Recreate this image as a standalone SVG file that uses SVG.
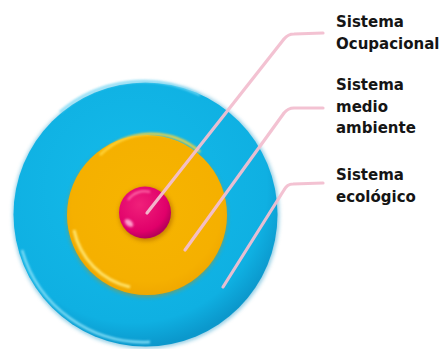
<svg xmlns="http://www.w3.org/2000/svg" width="442" height="349" viewBox="0 0 442 349">
<defs>
<radialGradient id="gBlue" cx="0.45" cy="0.4" r="0.6">
<stop offset="0" stop-color="#14bbea"/>
<stop offset="0.85" stop-color="#0fb0e2"/>
<stop offset="1" stop-color="#0b98cc"/>
</radialGradient>
<radialGradient id="gYellow" cx="0.5" cy="0.45" r="0.55">
<stop offset="0" stop-color="#f6b500"/>
<stop offset="0.85" stop-color="#f5b000"/>
<stop offset="1" stop-color="#f0a800"/>
</radialGradient>
<radialGradient id="gPink" cx="0.4" cy="0.35" r="0.65">
<stop offset="0" stop-color="#f0207a"/>
<stop offset="0.8" stop-color="#e0006a"/>
<stop offset="1" stop-color="#b8005a"/>
</radialGradient>
<filter id="blur1" x="-20%" y="-20%" width="140%" height="140%"><feGaussianBlur stdDeviation="1.2"/></filter>
<filter id="shadow" x="-20%" y="-20%" width="140%" height="140%"><feGaussianBlur stdDeviation="2"/></filter>
</defs>
<style>
.lbl{font-family:"DejaVu Sans",Verdana,sans-serif;font-weight:bold;font-size:15px;fill:#151515;}
.ln{fill:none;stroke:#f2bfd0;stroke-width:3.2;stroke-linecap:round;stroke-linejoin:round;opacity:0.95;}
</style>
<rect width="442" height="349" fill="#ffffff"/>
<g id="node-ecologico">
<circle cx="146" cy="215" r="133" fill="#0a8fc2" filter="url(#shadow)" opacity="0.5"/>
<circle cx="145.5" cy="214.5" r="132" fill="url(#gBlue)"/>
<path d="M 22 250 A 127 127 0 0 0 150 342" fill="none" stroke="#8fe4fa" stroke-width="2.5" filter="url(#blur1)" opacity="0.9"/>
<path d="M 60 112 A 127 127 0 0 1 200 95" fill="none" stroke="#7fdcf7" stroke-width="2.5" filter="url(#blur1)" opacity="0.8"/>
</g>
<g id="node-medio">
<circle cx="147" cy="217" r="80" fill="#c98d00" filter="url(#shadow)" opacity="0.5"/>
<circle cx="147" cy="215" r="80" fill="url(#gYellow)"/>
<path d="M 74 230 A 74 74 0 0 0 130 287" fill="none" stroke="#ffe36a" stroke-width="3" filter="url(#blur1)"/>
<path d="M 100 155 A 74 74 0 0 1 200 152" fill="none" stroke="#ffd43a" stroke-width="2.5" filter="url(#blur1)"/>
</g>
<g id="node-ocupacional">
<circle cx="146" cy="214" r="27" fill="#9a5000" filter="url(#shadow)" opacity="0.5"/>
<circle cx="145" cy="212.5" r="26" fill="url(#gPink)"/>
<ellipse cx="129" cy="223" rx="5" ry="3" fill="#ff9ccb" transform="rotate(40 129 223)" filter="url(#blur1)"/>
<path d="M 128 200 A 20 20 0 0 1 150 192" fill="none" stroke="#ff6aa8" stroke-width="2" filter="url(#blur1)"/>
</g>
<g id="connectors">
<path class="ln" d="M 147 213 L 284 39 Q 288 34 294 34 L 323 33"/>
<path class="ln" d="M 185 250 L 284 113 Q 288 108 294 108 L 323 108"/>
<path class="ln" d="M 223 287 L 284 190 Q 287 184 293 184 L 323 183"/>
</g>
<g id="labels">
<text class="lbl" x="336" y="27">Sistema</text>
<text class="lbl" x="336" y="49">Ocupacional</text>
<text class="lbl" x="336" y="90">Sistema</text>
<text class="lbl" x="336" y="112">medio</text>
<text class="lbl" x="336" y="133">ambiente</text>
<text class="lbl" x="336" y="180">Sistema</text>
<text class="lbl" x="336" y="202">ecológico</text>
</g>
</svg>
